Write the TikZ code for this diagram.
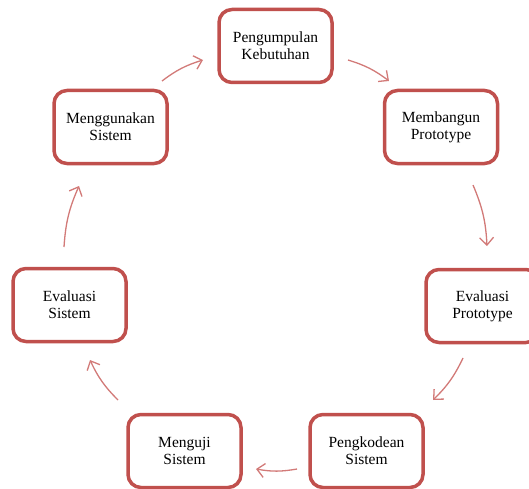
\documentclass[tikz,border=0pt]{standalone}
\usepackage{fontspec}
\setmainfont{Liberation Serif}
\usetikzlibrary{arrows.meta}
\definecolor{boxred}{HTML}{C0504D}
\definecolor{arrred}{HTML}{D27A78}
\begin{document}
\begin{tikzpicture}[x=1pt,y=1pt,
  stagebox/.style={draw=boxred, line width=3.5pt, rounded corners=13pt, fill=white,
    minimum width=113pt, minimum height=73pt, align=center, inner sep=0pt,
    font=\fontsize{15.5}{17}\selectfont},
  flow/.style={draw=arrred, line width=1.3pt, bend left=10,
    -{Straight Barb[length=7.5pt,width=14pt,line width=1.3pt]}}]
\useasboundingbox (0,0) rectangle (529,488);
\node[stagebox] (pk) at (275.5,442) {Pengumpulan\\Kebutuhan};
\node[stagebox] (mp) at (441,361) {Membangun\\Prototype};
\node[stagebox] (ep) at (482.5,182) {Evaluasi\\Prototype};
\node[stagebox] (ps) at (366.5,37) {Pengkodean\\Sistem};
\node[stagebox] (ms) at (184.5,37) {Menguji\\Sistem};
\node[stagebox] (es) at (69.5,183) {Evaluasi\\Sistem};
\node[stagebox] (mg) at (110.5,361) {Menggunakan\\Sistem};
\coordinate (a1s) at (162,407); \coordinate (a1e) at (203,428);
\coordinate (a2s) at (348,428); \coordinate (a2e) at (389,407);
\coordinate (a3s) at (473,303); \coordinate (a3e) at (487,242);
\coordinate (a4s) at (463,130); \coordinate (a4e) at (433,88);
\coordinate (a5s) at (297,19);  \coordinate (a5e) at (256,19);
\coordinate (a6s) at (118,88);  \coordinate (a6e) at (90,128);
\coordinate (a7s) at (64,241);  \coordinate (a7e) at (79,302);
\draw[flow] (a1s) to (a1e);
\draw[flow] (a2s) to (a2e);
\draw[flow] (a3s) to (a3e);
\draw[flow] (a4s) to (a4e);
\draw[flow] (a5s) to (a5e);
\draw[flow] (a6s) to (a6e);
\draw[flow] (a7s) to (a7e);
\end{tikzpicture}
\end{document}
